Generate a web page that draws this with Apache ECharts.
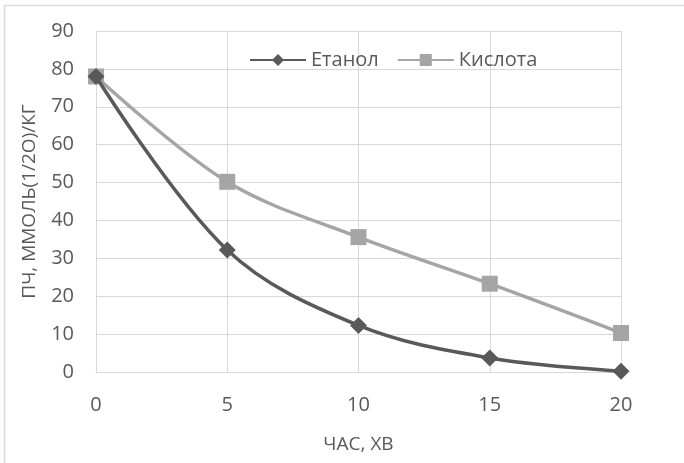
<!DOCTYPE html>
<html>
<head>
<meta charset="utf-8">
<script src="https://cdn.jsdelivr.net/npm/echarts@6/dist/echarts.min.js"></script>
<style>
  html, body { margin: 0; padding: 0; background: #ffffff; }
  #chart { width: 684px; height: 463px; }
</style>
</head>
<body>
<div id="chart"></div>
<script>
// Time points, minutes
const timeMin = [0, 5, 10, 15, 20];
// Peroxide value, mmol(1/2O)/kg
const ethanolValues = [78, 32.2, 12.3, 3.7, 0.2];
const acidValues = [78, 50.2, 35.6, 23.3, 10.3];
const seriesNames = ['Етанол', 'Кислота'];

const FONT = '"Open Sans", "Noto Sans", sans-serif';
const TEXT = '#595959';
const chart = echarts.init(document.getElementById('chart'), null, { renderer: 'canvas' });

chart.setOption({
  backgroundColor: '#ffffff',
  animation: false,
  graphic: [{
    // chart-area frame (left and top edges visible)
    type: 'rect',
    shape: { x: 4.5, y: 5.5, width: 720, height: 500 },
    style: { fill: 'none', stroke: '#d9d9d9', lineWidth: 1.5 },
    silent: true
  }],
  grid: { left: 96, right: 63, top: 31, bottom: 91 },
  legend: {
    top: 45,
    left: 244,
    itemWidth: 56,
    itemHeight: 15,
    itemGap: 18,
    textStyle: { fontFamily: FONT, fontSize: 20, color: TEXT },
    data: seriesNames
  },
  xAxis: {
    type: 'value',
    min: 0, max: 20, interval: 5,
    name: 'ЧАС, ХВ',
    nameLocation: 'middle',
    nameGap: 63,
    nameTextStyle: { fontFamily: FONT, fontSize: 19, color: TEXT },
    axisLine: { show: true, lineStyle: { color: '#d9d9d9' } },
    axisTick: { show: false },
    axisLabel: { fontFamily: FONT, fontSize: 20, color: TEXT, margin: 23 },
    splitLine: { show: true, lineStyle: { color: '#d9d9d9' } }
  },
  yAxis: {
    type: 'value',
    min: 0, max: 90, interval: 10,
    name: 'ПЧ, ММОЛЬ(1/2О)/КГ',
    nameLocation: 'middle',
    nameGap: 57,
    nameTextStyle: { fontFamily: FONT, fontSize: 19, color: TEXT },
    axisLine: { show: false },
    axisTick: { show: false },
    axisLabel: { fontFamily: FONT, fontSize: 20, color: TEXT, margin: 22 },
    splitLine: { show: true, lineStyle: { color: '#d9d9d9' } }
  },
  series: [
    {
      name: seriesNames[0],
      type: 'line',
      smooth: 0.35,
      data: timeMin.map((t, i) => [t, ethanolValues[i]]),
      symbol: 'diamond',
      symbolSize: 17,
      itemStyle: { color: '#595959' },
      lineStyle: { color: '#595959', width: 3.5 },
      z: 3
    },
    {
      name: seriesNames[1],
      type: 'line',
      smooth: 0.35,
      data: timeMin.map((t, i) => [t, acidValues[i]]),
      symbol: 'rect',
      symbolSize: 16,
      itemStyle: { color: '#a5a5a5' },
      lineStyle: { color: '#a5a5a5', width: 3.5 },
      z: 2
    }
  ]
});
</script>
</body>
</html>
